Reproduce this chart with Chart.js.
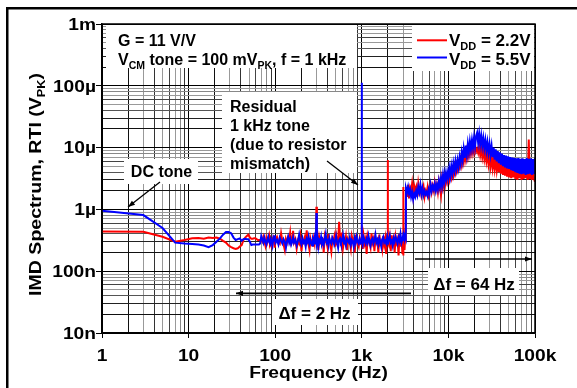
<!DOCTYPE html>
<html>
<head>
<meta charset="utf-8">
<script src="https://cdn.jsdelivr.net/npm/chart.js@4.4.1/dist/chart.umd.min.js"></script>
<style>
    html, body { margin: 0; padding: 0; background: #fff; }
    canvas { display: block; }
</style>
</head>
<body>
<canvas id="imd" width="577" height="388"></canvas>
<script>
// Δf = 2 Hz section (Hz), values below in µV
const freqLow = [
    1, 3, 5, 7, 9, 11, 13, 15, 17, 19, 21, 23, 25, 27, 29, 31, 33, 35, 37, 39,
    41, 43, 45, 47, 49, 51, 53, 55, 57, 59, 61, 63, 65, 67, 69,
    71, 73, 75, 77, 79, 81, 83, 85, 87, 89,
    91, 93, 95, 97, 99, 101, 105, 109, 113, 117,
    121, 125, 129, 133, 137, 141, 145, 149, 153, 157,
    161, 165, 171, 177, 183, 189, 195, 201, 207, 213,
    219, 225, 231, 237, 243, 249, 255, 261, 267, 273,
    279, 285, 291, 295, 299, 303, 309, 315, 323, 331,
    339, 347, 355, 363, 373, 383, 393, 403, 413, 423,
    433, 445, 457, 469, 481, 493, 505, 519, 533, 547,
    561, 575, 591, 607, 623, 639, 655, 673, 691, 709,
    727, 747, 767, 787, 807, 829, 851, 873, 897, 921,
    945, 971, 995, 999, 1003, 1025, 1051, 1079, 1107, 1137,
    1167, 1197, 1229, 1261, 1295, 1329, 1363, 1399, 1437, 1475,
    1513, 1553, 1595, 1637, 1679, 1723, 1769, 1817, 1865, 1913,
    1963, 1995, 1999, 2003, 2049, 2103, 2159, 2215, 2273, 2333,
    2395, 2459, 2523, 2589, 2657, 2727, 2799, 2873, 2949, 2995,
    2999, 3003, 3057, 3113, 3169, 3221
];
// VDD = 2.2V
const redLow = [
    .44, .435, .36, .30, .32, .34, .345, .335, .35, .345, .35, .335, .31, .29, .26, .245, .235, .23, .235, .25,
    .265, .32, .35, .37, .39, .35, .335, .335, .34, .34, .33, .32, .32, .32, .32,
    .30, .36, .31, .26, .34, .29, .33, .38, .28, .31,
    .27, .33, .35, .29, .24, .32, .36, .30, .28, .41,
    .31, .27, .22, .33, .29, .35, .31, .42, .28, .30,
    .45, .29, .33, .23, .31, .28, .37, .21, .32, .30,
    .35, .26, .46, .30, .27, .22, .34, .29, .31, .25,
    .33, .28, .38, .30, 1.1, .27, .32, .22, .35, .29,
    .31, .26, .34, .20, .36, .30, .29, .24, .40, .31,
    .28, .21, .33, .30, .36, .25, .38, .29, .31, .63,
    .33, .28, .42, .24, .31, .29, .36, .22, .33, .30,
    .29, .23, .37, .31, .33, .20, .39, .30, .28, .25,
    .34, .29, .31, .55, .30, .23, .37, .28, .33, .19,
    .36, .30, .28, .24, .41, .29, .33, .21, .35, .30,
    .32, .20, .39, .28, .30, .23, .37, .27, .34, .19,
    .40, .29, 6.3, .30, .27, .35, .21, .38, .28, .33,
    .20, .36, .29, .33, .18, .40, .25, .34, .19, .31,
    2.3, .18, .38, .22, .35, .30
];
// VDD = 5.5V
const blueLow = [
    .95, .81, .50, .29, .28, .275, .27, .26, .245, .265, .30, .34, .39, .43, .43, .41, .35, .32, .33, .34,
    .31, .33, .335, .33, .33, .30, .265, .27, .27, .27, .27, .27, .27, .28, .37,
    .33, .29, .35, .30, .27, .32, .36, .30, .28, .33,
    .30, .26, .34, .31, .38, .29, .32, .27, .35, .31,
    .28, .33, .30, .24, .31, .36, .29, .33, .27, .30,
    .35, .29, .32, .26, .31, .39, .30, .27, .34, .29,
    .31, .25, .33, .30, .36, .28, .32, .29, .26, .33,
    .30, .35, .28, .31, .87, .29, .33, .25, .32, .30,
    .36, .28, .31, .27, .33, .40, .29, .31, .26, .34,
    .30, .28, .35, .32, .27, .31, .37, .29, .24, .32,
    .34, .29, .31, .38, .28, .30, .26, .33, .31, .29,
    .35, .27, .32, .30, .25, .34, .29, .36, .30, .28,
    .33, .29, .31, 112, .30, .27, .35, .31, .28, .33,
    .29, .37, .30, .26, .32, .34, .28, .31, .39, .29,
    .32, .27, .34, .30, .25, .33, .36, .29, .31, .28,
    .35, .30, .32, .27, .33, .38, .29, .31, .26, .34,
    .30, .36, .32, .28, .35, .31, .40, .29, .33, .37,
    .31, .36, .42, .33, .38, .35
];

// Δf = 64 Hz section
const freqHigh = [
    3240, 3330, 3420, 3510, 3610, 3710, 3810, 3920, 4030, 4140,
    4250, 4370, 4490, 4620, 4750, 4880, 5010, 5150, 5300, 5440,
    5590, 5750, 5910, 6070, 6240, 6410, 6590, 6780, 6960, 7160,
    7360, 7560, 7770, 7990, 8210, 8440, 8670, 8910, 9160, 9420,
    9680, 9950, 10230, 10510, 10800, 11100, 11410, 11730, 12060, 12390,
    12740, 13090, 13460, 13830, 14220, 14610, 15020, 15440, 15870, 16310,
    16760, 17230, 17710, 18200, 18710, 19230, 19760, 20310, 20880, 21460,
    22060, 22670, 23300, 23950, 24620, 25300, 26010, 26730, 27480, 28240,
    29030, 29840, 30670, 31520, 32400, 33300, 34230, 35180, 36160, 37170,
    38200, 39270, 40360, 41480, 42640, 43830, 45050, 46300, 47590, 48920,
    50280, 51680, 53120, 54600, 56120, 57680, 59290, 60940, 62640, 64380,
    66170, 68010, 69900, 71850, 73850, 75900, 78010, 80180, 82410, 84700,
    87060, 89480, 91970, 94530, 97160, 99870
];
const redHigh = [
    2.3, 1.6, 2.5, 1.5, 2.2, 1.9, 2.6, 1.7, 2.4, 2.0,
    2.3, 1.6, 2.6, 1.9, 2.2, 1.7, 2.1, 2.4, 1.6, 2.0,
    1.8, 2.3, 1.7, 2.1, 2.5, 1.9, 2.4, 2.0, 2.7, 2.1,
    2.5, 1.9, 2.8, 2.2, 1.7, 3.0, 2.3, 3.2, 2.5, 3.4,
    2.8, 3.6, 3.0, 4.0, 3.3, 4.4, 3.6, 4.9, 4.0, 5.3,
    4.4, 5.6, 4.8, 6.4, 5.2, 7.2, 5.8, 8.0, 6.4, 8.8,
    7.0, 9.4, 7.6, 10.0, 8.0, 10.6, 8.4, 11.0, 8.6, 9.5,
    8.2, 10.5, 7.6, 9.8, 7.0, 9.0, 6.5, 8.4, 6.0, 7.8,
    5.4, 7.4, 5.0, 7.0, 4.7, 6.6, 4.5, 6.3, 4.3, 6.0,
    4.0, 5.8, 3.8, 5.6, 3.6, 5.4, 3.5, 5.3, 3.4, 5.2,
    3.3, 5.0, 3.2, 4.9, 3.3, 5.0, 3.1, 4.8, 3.0, 5.1,
    3.2, 4.9, 3.0, 5.0, 3.1, 4.8, 3.2, 5.0, 3.0, 13.5,
    3.1, 5.0, 3.0, 4.8, 3.2, 2.8
];
const blueHigh = [
    2.2, 1.9, 2.3, 1.8, 2.1, 1.6, 1.9, 1.45, 1.8, 1.6,
    2.0, 1.7, 2.3, 1.9, 2.5, 1.8, 2.2, 1.7, 2.0, 1.75,
    1.9, 1.65, 2.1, 1.8, 2.5, 2.0, 2.4, 2.1, 2.6, 2.0,
    2.5, 2.1, 2.9, 2.3, 3.2, 2.4, 3.6, 2.7, 3.9, 3.0,
    4.0, 3.2, 4.6, 3.5, 5.0, 3.8, 5.5, 4.2, 6.0, 4.5,
    6.2, 4.8, 7.0, 5.5, 8.2, 6.2, 9.5, 6.8, 10.8, 7.6,
    11.5, 8.4, 12.5, 9.2, 13.2, 9.8, 14.5, 10.4, 15.5, 17.5,
    12.0, 16.8, 11.4, 15.6, 10.6, 14.2, 9.8, 13.2, 9.0, 12.2,
    8.4, 11.4, 7.8, 10.6, 7.0, 10.0, 6.4, 9.4, 6.0, 8.8,
    5.6, 8.4, 5.3, 8.0, 5.0, 7.6, 4.8, 7.4, 4.6, 7.2,
    4.5, 7.0, 4.3, 6.9, 4.2, 6.8, 4.0, 6.7, 3.9, 6.8,
    3.8, 6.6, 3.7, 6.7, 3.8, 6.5, 3.6, 6.8, 3.7, 6.6,
    3.8, 6.7, 3.6, 6.5, 3.7, 6.8
];

const xTickValues = [1, 10, 100, 1e3, 1e4, 1e5];
const xTickLabels = ['1', '10', '100', '1k', '10k', '100k'];
const yTickValues = [1e-8, 1e-7, 1e-6, 1e-5, 1e-4, 1e-3];
const yTickLabels = ['10n', '100n', '1µ', '10µ', '100µ', '1m'];

const FONT = '"Liberation Sans", Arial, sans-serif';

// µV -> V points
function toPoints(freqs, vals) {
    return freqs.map((f, i) => ({ x: f, y: vals[i] * 1e-6 }));
}

function mantissa(v) {
    const e = Math.floor(Math.log10(v) + 1e-9);
    return v / Math.pow(10, e);
}

// keep only 1..9 x 10^n ticks (v4 also adds 1.5 steps)
function keepDecadeTicks(scale) {
    scale.ticks = scale.ticks.filter(t => {
        const m = mantissa(t.value);
        return Math.abs(m - Math.round(m)) < 1e-6;
    });
}

// minor grid shades, the original has a mix of dark and light lines
const shadeX = { 2: '#111', 3: '#999', 4: '#333', 5: '#999', 6: '#444', 7: '#999', 8: '#888', 9: '#333' };
const shadeY = { 2: '#111', 3: '#222', 4: '#555', 5: '#999', 6: '#444', 7: '#999', 8: '#888', 9: '#999' };

function gridColor(shades) {
    return function(ctx) {
        if (!ctx.tick) return '#000';
        const m = Math.round(mantissa(ctx.tick.value));
        if (m === 1 || m === 10) return '#000';
        return shades[m] || '#888';
    };
}
function tickMarkColor(ctx) {
    if (!ctx.tick) return 'rgba(0,0,0,0)';
    const m = Math.round(mantissa(ctx.tick.value));
    return (m === 1 || m === 10) ? '#000' : 'rgba(0,0,0,0)';
}

// text with subscripts: parts = [[text, isSub], ...]
function richText(ctx, parts, x, y, size, align, subSize) {
    subSize = subSize || Math.round(size * 0.66);
    let w = 0;
    parts.forEach(p => {
        ctx.font = 'bold ' + (p[1] ? subSize : size) + 'px ' + FONT;
        w += ctx.measureText(p[0]).width;
    });
    let cx = align === 'center' ? x - w / 2 : (align === 'right' ? x - w : x);
    ctx.textAlign = 'left';
    ctx.textBaseline = 'alphabetic';
    parts.forEach(p => {
        ctx.font = 'bold ' + (p[1] ? subSize : size) + 'px ' + FONT;
        ctx.fillText(p[0], cx, p[1] ? y + size * 0.26 : y);
        cx += ctx.measureText(p[0]).width;
    });
}

// horizontally stretched text (axis labels in the original are wide)
function wideText(ctx, text, x, y, size, sx, align) {
    ctx.save();
    ctx.translate(x, y);
    ctx.scale(sx, 1);
    ctx.font = 'bold ' + size + 'px ' + FONT;
    ctx.textAlign = align;
    ctx.textBaseline = 'alphabetic';
    ctx.fillText(text, 0, 0);
    ctx.restore();
}

function arrow(ctx, x1, y1, x2, y2) {
    ctx.beginPath();
    ctx.moveTo(x1, y1);
    ctx.lineTo(x2, y2);
    ctx.stroke();
    const a = Math.atan2(y2 - y1, x2 - x1);
    const len = 7, half = 2.6;
    ctx.beginPath();
    ctx.moveTo(x2, y2);
    ctx.lineTo(x2 - len * Math.cos(a) + half * Math.sin(a), y2 - len * Math.sin(a) - half * Math.cos(a));
    ctx.lineTo(x2 - len * Math.cos(a) - half * Math.sin(a), y2 - len * Math.sin(a) + half * Math.cos(a));
    ctx.closePath();
    ctx.fill();
}

// white label boxes over the grid
const boxes = [
    [106, 25, 251, 43],   // G / VCM note
    [412, 25, 122, 46],   // legend
    [222, 92, 135, 81],   // residual tone note
    [124, 159, 74, 25],   // DC tone
    [272, 299, 86, 26],   // Δf = 2 Hz
    [428, 268, 91, 27]    // Δf = 64 Hz
];

const decorations = {
    id: 'decorations',
    beforeDatasetsDraw(chart) {
        const ctx = chart.ctx;
        ctx.save();
        ctx.fillStyle = '#fff';
        boxes.forEach(b => ctx.fillRect(b[0], b[1], b[2], b[3]));
        ctx.restore();
    },
    afterDatasetsDraw(chart) {
        const ctx = chart.ctx;
        const area = chart.chartArea;
        const xs = chart.scales.x, ys = chart.scales.y;
        ctx.save();

        // plot frame
        ctx.strokeStyle = '#000';
        ctx.lineWidth = 1.5;
        ctx.strokeRect(area.left, area.top, area.right - area.left, area.bottom - area.top);

        ctx.fillStyle = '#000';

        // tick labels
        xTickValues.forEach((v, i) => {
            wideText(ctx, xTickLabels[i], xs.getPixelForValue(v), 361, 16, 1.2, 'center');
        });
        yTickValues.forEach((v, i) => {
            wideText(ctx, yTickLabels[i], 96, ys.getPixelForValue(v) + 5.8, 16, 1.2, 'right');
        });

        // axis titles
        wideText(ctx, 'Frequency (Hz)', (area.left + area.right) / 2, 378, 16, 1.2, 'center');
        ctx.save();
        ctx.translate(41, 184.5);
        ctx.rotate(-Math.PI / 2);
        ctx.scale(1.15, 1);
        richText(ctx, [['IMD Spectrum, RTI (V', false], ['PK', true], [')', false]], 0, 0, 17, 'center', 11);
        ctx.restore();

        // notes
        richText(ctx, [['G = 11 V/V', false]], 118, 45.7, 16, 'left');
        richText(ctx, [['V', false], ['CM', true], [' tone = 100 mV', false], ['PK', true], [', f = 1 kHz', false]], 118, 65, 16, 'left', 10.5);

        // legend
        ctx.lineWidth = 2;
        ctx.strokeStyle = '#ff0000';
        ctx.beginPath(); ctx.moveTo(417, 40.3); ctx.lineTo(447, 40.3); ctx.stroke();
        ctx.strokeStyle = '#0000ff';
        ctx.beginPath(); ctx.moveTo(417, 57.5); ctx.lineTo(447, 57.5); ctx.stroke();
        richText(ctx, [['V', false], ['DD', true], [' = 2.2V', false]], 449, 46, 17, 'left', 11);
        richText(ctx, [['V', false], ['DD', true], [' = 5.5V', false]], 449, 64.5, 17, 'left', 11);

        // residual tone note
        ['Residual', '1 kHz tone', '(due to resistor', 'mismatch)'].forEach((t, i) => {
            richText(ctx, [[t, false]], 230, 111.5 + i * 19, 16, 'left');
        });
        richText(ctx, [['DC tone', false]], 161.5, 176.7, 16, 'center');
        richText(ctx, [['\u0394f = 2 Hz', false]], 314.5, 318.5, 17, 'center');
        richText(ctx, [['\u0394f = 64 Hz', false]], 474, 290, 17, 'center');

        // arrows
        ctx.strokeStyle = '#000';
        ctx.lineWidth = 1.3;
        arrow(ctx, 327, 161, 358, 185);
        arrow(ctx, 160, 182, 128, 207);
        ctx.lineWidth = 1.7;
        arrow(ctx, 411, 293.3, 236, 293.3);
        arrow(ctx, 415, 259, 532, 259);

        // outer frame of the figure (left and top edges)
        ctx.fillRect(6, 7, 571, 2.5);
        ctx.fillRect(6, 7, 2.5, 381);

        ctx.restore();
    }
};

new Chart(document.getElementById('imd'), {
    type: 'line',
    data: {
        datasets: [
            {
                label: 'VDD = 2.2V',
                data: toPoints(freqLow, redLow).concat(toPoints(freqHigh, redHigh)),
                borderColor: '#ff0000',
                borderWidth: 2,
                order: 2
            },
            {
                label: 'VDD = 5.5V',
                data: toPoints(freqLow, blueLow).concat(toPoints(freqHigh, blueHigh)),
                borderColor: '#0000ff',
                borderWidth: 2,
                order: 1
            }
        ]
    },
    options: {
        responsive: false,
        animation: false,
        devicePixelRatio: 1,
        layout: { padding: { top: 24, right: 42, left: 0, bottom: 0 } },
        elements: {
            point: { radius: 0 },
            line: { tension: 0 }
        },
        plugins: {
            legend: { display: false },
            tooltip: { enabled: false }
        },
        scales: {
            x: {
                type: 'logarithmic',
                min: 1,
                max: 100000,
                afterBuildTicks: keepDecadeTicks,
                afterFit: s => { s.height = 55; },
                ticks: { autoSkip: false, maxRotation: 0, callback: () => '' },
                grid: { color: gridColor(shadeX), lineWidth: 1, drawTicks: true, tickLength: 5, tickColor: tickMarkColor },
                border: { color: '#000', width: 1.5 }
            },
            y: {
                type: 'logarithmic',
                min: 1e-8,
                max: 1e-3,
                afterBuildTicks: keepDecadeTicks,
                afterFit: s => { s.width = 102; },
                ticks: { autoSkip: false, callback: () => '' },
                grid: { color: gridColor(shadeY), lineWidth: 1, drawTicks: true, tickLength: 6, tickColor: tickMarkColor },
                border: { color: '#000', width: 1.5 }
            }
        }
    },
    plugins: [decorations]
});
</script>
</body>
</html>
